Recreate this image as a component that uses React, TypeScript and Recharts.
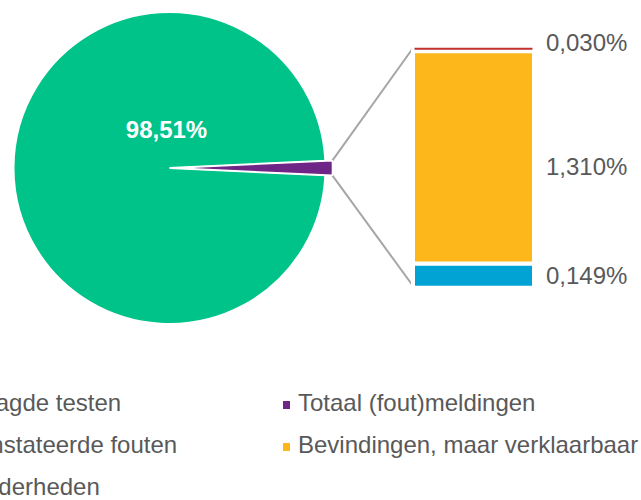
import React from 'react';
import { PieChart, Pie, Cell, BarChart, Bar, XAxis, YAxis, LabelList, Legend, Customized } from 'recharts';

// ─── Data ───

const PIE_NAMES = ['Geslaagde testen', 'Totaal (fout)meldingen'];
const PIE_VALUES = [98.51, 1.49];
const PIE_COLORS = ['#00C389', '#6E2585'];

// secondary bar, bottom → top
const BAR_KEYS = ['bijzonderheden', 'bevindingen', 'fouten'];
const BAR_NAMES = ['Bijzonderheden', 'Bevindingen, maar verklaarbaar', 'Geconstateerde fouten'];
const BAR_VALUES = [0.149, 1.31, 0.03];
const BAR_COLORS = ['#00A3D4', '#FDB71A', '#C0312F'];

const LEGEND_NAMES = [
  'Geslaagde testen',
  'Totaal (fout)meldingen',
  'Geconstateerde fouten',
  'Bevindingen, maar verklaarbaar',
  'Bijzonderheden',
];
const LEGEND_COLORS = ['#00C389', '#6E2585', '#C0312F', '#FDB71A', '#00A3D4'];

// ─── Layout ───

const W = 641;
const H = 500;
const CX = 169.5;
const CY = 168;
const R = 156;
const EXPLODE = 7;
const FONT = '"Liberation Sans", Arial, sans-serif';
const TEXT = '#595959';

const BAR_LEFT = 413;
const BAR_RIGHT = 534;
const BAR_TOP = 46.3;
const BAR_BOTTOM = 287.7;

const otherShare = PIE_VALUES[1] / PIE_VALUES.reduce((a, b) => a + b, 0);
const HALF = (otherShare * 360) / 2;
const barTotal = BAR_VALUES.reduce((a, b) => a + b, 0);

const pieMain = PIE_NAMES.map((name, i) => ({ name, value: PIE_VALUES[i] }));
const barRow = [
  BAR_KEYS.reduce<Record<string, number | string>>((row, k, i) => {
    row[k] = BAR_VALUES[i];
    return row;
  }, { name: 'other' }),
];

function fmt(v: number, digits: number) {
  return v.toFixed(digits).replace('.', ',') + '%';
}

function Connectors() {
  const rad = (HALF * Math.PI) / 180;
  const x0 = CX + EXPLODE + R * Math.cos(rad);
  const dy = R * Math.sin(rad);
  return (
    <g>
      <line x1={x0} y1={CY - dy} x2={BAR_LEFT} y2={BAR_TOP + 1.7} stroke="#A6A6A6" strokeWidth={2} />
      <line x1={x0} y1={CY + dy} x2={BAR_LEFT} y2={BAR_BOTTOM - 1.7} stroke="#A6A6A6" strokeWidth={2} />
    </g>
  );
}

function sideLabel(shift: number) {
  return (props: any) => {
    const { x, y, width, height, value } = props;
    return (
      <text
        x={Number(x) + Number(width) + 12}
        y={Number(y) + Number(height) / 2 + 8.6 + shift}
        fill={TEXT}
        fontSize={24}
        fontFamily={FONT}
      >
        {fmt(Number(value), 3)}
      </text>
    );
  };
}

function renderPieLabel(props: any) {
  if (props.index !== 0) return null;
  return (
    <text
      x={props.cx - 3}
      y={props.cy - 0.19 * props.outerRadius}
      fill="#fff"
      fontSize={24}
      fontWeight="bold"
      fontFamily={FONT}
      textAnchor="middle"
    >
      {fmt(props.value, 2)}
    </text>
  );
}

function LegendBox() {
  return (
    <div
      style={{
        display: 'grid',
        gridTemplateColumns: '365px 365px',
        fontFamily: FONT,
        fontSize: 24,
        lineHeight: '42px',
        color: TEXT,
        whiteSpace: 'nowrap',
      }}
    >
      {LEGEND_NAMES.map((n, i) => (
        <div key={n}>
          <span
            style={{
              display: 'inline-block',
              width: 7,
              height: 8,
              background: LEGEND_COLORS[i],
              marginRight: 8,
              verticalAlign: 'middle',
            }}
          />
          <span>{n}</span>
        </div>
      ))}
    </div>
  );
}

export default function App() {
  return (
    <div style={{ position: 'absolute', left: 0, top: 0, width: W, height: H, overflow: 'hidden', background: '#fff' }}>
      <div style={{ position: 'absolute', left: 0, top: 0 }}>
        <PieChart width={W} height={H} margin={{ top: 0, right: 0, bottom: 0, left: 0 }}>
          <Pie
            data={pieMain}
            dataKey="value"
            cx={CX}
            cy={CY}
            outerRadius={R}
            startAngle={HALF}
            endAngle={360 + HALF}
            label={renderPieLabel}
            labelLine={false}
            isAnimationActive={false}
          >
            <Cell fill={PIE_COLORS[0]} stroke="#fff" strokeWidth={2} />
            <Cell fill="none" stroke="none" />
          </Pie>
          <Pie
            data={pieMain}
            dataKey="value"
            cx={CX + EXPLODE}
            cy={CY}
            outerRadius={R}
            startAngle={HALF}
            endAngle={360 + HALF}
            isAnimationActive={false}
          >
            <Cell fill="none" stroke="none" />
            <Cell fill={PIE_COLORS[1]} stroke="#fff" strokeWidth={1.5} />
          </Pie>
          <Customized component={<Connectors />} />
          <Legend
            content={<LegendBox />}
            wrapperStyle={{ position: 'absolute', left: -82, top: 382, width: 800, margin: 0, padding: 0 }}
          />
        </PieChart>
      </div>
      <div style={{ position: 'absolute', left: 0, top: 0 }}>
        <BarChart
          width={W}
          height={380}
          data={barRow}
          barCategoryGap={0}
          margin={{ top: BAR_TOP, bottom: 380 - BAR_BOTTOM, left: BAR_LEFT, right: W - BAR_RIGHT }}
        >
          <XAxis dataKey="name" hide />
          <YAxis hide domain={[0, barTotal]} />
          {BAR_KEYS.map((k, i) => (
            <Bar
              key={k}
              dataKey={k}
              name={BAR_NAMES[i]}
              stackId="s"
              fill={BAR_COLORS[i]}
              stroke="#fff"
              strokeWidth={i === 2 ? 3 : 4}
              isAnimationActive={false}
            >
              <LabelList dataKey={k} content={sideLabel(i === 1 ? 9.3 : i === 2 ? -6 : 0)} />
            </Bar>
          ))}
        </BarChart>
      </div>
    </div>
  );
}
